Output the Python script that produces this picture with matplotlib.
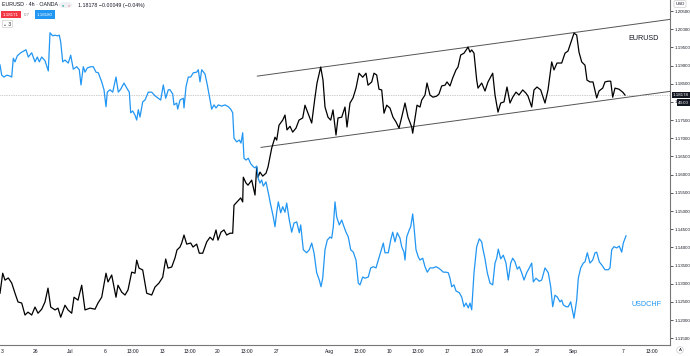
import numpy as np
import matplotlib
matplotlib.use("Agg")
import matplotlib.pyplot as plt
from matplotlib.patches import FancyBboxPatch

plt.rcParams['font.family'] = ['Liberation Sans', 'DejaVu Sans']

# time axis positions (chart time units) and prices
eur_t = [0, 2.7, 5, 8.3, 11.7, 15, 18, 21.7, 25, 28, 31.7, 35, 38, 41.7, 45, 48, 50.7, 55, 58,
         60.7, 65, 68, 71.7, 74, 78, 81.7, 85, 90, 95, 98, 101.7, 106, 108, 111.7, 116, 118,
         121.7, 125, 128, 131.7, 135, 136.7, 139, 142.7, 146.7, 151.7, 155, 159, 162.7, 165.7,
         168, 171.7, 175, 177, 180, 181.7, 184, 186.7, 190.7, 193, 196.7, 199.3, 202.7, 206.7,
         210, 213, 216, 218, 221, 224, 226.7, 230, 232.7, 234, 237, 240.7, 242.7, 243.3, 246,
         248, 251.7, 255, 256.7, 258, 260, 262.7, 266, 268, 271.7, 275, 276.7, 279, 282.7, 285,
         287, 290, 292.7, 296, 299, 302.7, 305, 308, 311.7, 315, 317, 320.7, 323, 325, 328,
         330.7, 333, 336, 338, 341.7, 345, 347, 350, 353, 356, 359, 362.7, 366, 368, 371.7, 374,
         376.7, 379, 381.7, 384, 386.7, 390, 393, 396, 399, 401.7, 405, 408, 411.7, 412.7, 415,
         417, 420, 421.7, 425, 427, 430, 433, 436.7, 439, 441.7, 445, 447, 450, 452.7, 456, 458,
         460.7, 464, 466.7, 468, 470, 471.7, 474, 476.7, 478, 481.7, 485, 488, 492.7, 495, 498,
         500.7, 504, 507, 510, 512.7, 516, 519, 522.7, 526, 528, 531.7, 534, 537, 540.7, 545,
         548, 551.7, 554, 557, 561.7, 565, 568, 571.7, 574, 576.7, 579, 581.7, 585, 587, 590,
         593, 596.7, 599, 602.7, 605, 608, 610.7, 612.7, 615, 619, 622.7, 625]
eur_px = [1.1274, 1.1329, 1.1310, 1.1316, 1.1302, 1.1274, 1.1250, 1.1247, 1.1214, 1.1222,
          1.1214, 1.1236, 1.1219, 1.1230, 1.1250, 1.1288, 1.1236, 1.1228, 1.1233, 1.1208,
          1.1241, 1.1228, 1.1219, 1.1263, 1.1255, 1.1296, 1.1228, 1.1233, 1.1230, 1.1247,
          1.1263, 1.1329, 1.1305, 1.1324, 1.1263, 1.1296, 1.1277, 1.1269, 1.1283, 1.1332,
          1.1329, 1.1365, 1.1343, 1.1338, 1.1274, 1.1269, 1.1291, 1.1302, 1.1318, 1.1368,
          1.1343, 1.1346, 1.1371, 1.1393, 1.1401, 1.1412, 1.1434, 1.1409, 1.1412, 1.1401,
          1.1409, 1.1384, 1.1384, 1.1415, 1.1428, 1.1420, 1.1448, 1.1420, 1.1442, 1.1448,
          1.1434, 1.1439, 1.1439, 1.1516, 1.1525, 1.1536, 1.1525, 1.1593, 1.1577, 1.1571,
          1.1585, 1.1544, 1.1621, 1.1593, 1.1607, 1.1596, 1.1604, 1.1621, 1.1673, 1.1703,
          1.1695, 1.1736, 1.1750, 1.1764, 1.1723, 1.1733, 1.1717, 1.1728, 1.1750, 1.1756,
          1.1791, 1.1769, 1.1742, 1.1813, 1.1852, 1.1896, 1.1860, 1.1786, 1.1758, 1.1750,
          1.1778, 1.1709, 1.1756, 1.1758, 1.1786, 1.1731, 1.1797, 1.1811, 1.1838, 1.1879,
          1.1868, 1.1879, 1.1846, 1.1855, 1.1879, 1.1874, 1.1835, 1.1833, 1.1769, 1.1791,
          1.1783, 1.1758, 1.1745, 1.1728, 1.1758, 1.1797, 1.1758, 1.1731, 1.1714, 1.1756,
          1.1791, 1.1786, 1.1805, 1.1819, 1.1852, 1.1819, 1.1813, 1.1816, 1.1822, 1.1844,
          1.1846, 1.1855, 1.1844, 1.1866, 1.1888, 1.1896, 1.1929, 1.1934, 1.1945, 1.1951,
          1.1937, 1.1943, 1.1934, 1.1860, 1.1838, 1.1852, 1.1830, 1.1855, 1.1879, 1.1819,
          1.1772, 1.1797, 1.1800, 1.1841, 1.1797, 1.1813, 1.1827, 1.1819, 1.1833, 1.1824,
          1.1816, 1.1786, 1.1833, 1.1841, 1.1833, 1.1797, 1.1833, 1.1910, 1.1888, 1.1907,
          1.1907, 1.1934, 1.1940, 1.1970, 1.1989, 1.1984, 1.1937, 1.1910, 1.1901, 1.1860,
          1.1855, 1.1855, 1.1811, 1.1830, 1.1838, 1.1855, 1.1857, 1.1857, 1.1813, 1.1838,
          1.1835, 1.1827, 1.1819]

chf_t = [0, 1.7, 4, 6.7, 9.3, 11.7, 13.3, 15, 17.3, 20.7, 24, 26, 28.3, 31.7, 35, 37.3, 39.3,
         41.7, 45, 48.3, 50, 52.7, 55, 57.3, 59.3, 60.7, 62.7, 65, 68.3, 70.7, 73.3, 76.7, 79.3,
         81, 83.3, 85, 87.3, 90.7, 93.3, 96, 98.3, 101.7, 104, 106, 107.3, 110, 112.7, 116,
         118.3, 120.7, 124, 126.7, 129.3, 130.7, 132.7, 135, 136.7, 138.3, 140, 142.7, 145,
         148.3, 151.7, 155, 158.3, 160.7, 163.3, 165.7, 168.3, 170, 172.7, 174, 176.7, 177.7,
         180, 183.3, 184, 186, 188.3, 190.7, 193.3, 196.7, 198.3, 200, 201.7, 205, 207.3, 210,
         211.7, 214, 216, 218.3, 221.7, 225, 228.3, 230.7, 232.7, 234, 236.7, 239.3, 241, 242.7,
         244, 246, 248.3, 250.7, 253.3, 255, 256.7, 258.3, 260, 261.7, 263.3, 266, 268.3, 270.7,
         273.3, 275, 276.7, 278.3, 280.7, 282.7, 285, 286.7, 289.3, 291.7, 294, 296.7, 299.3,
         300.7, 303.3, 306.7, 309.3, 311.7, 314, 316.7, 319.3, 321, 322.7, 325, 327.3, 330,
         331.7, 333.3, 335, 336.7, 339.3, 341.7, 344, 346, 348.3, 350.7, 353.3, 356, 358.3, 360,
         362.7, 365, 368.3, 370.7, 373.3, 376, 378.3, 380.7, 383.3, 385, 388.3, 390.7, 392.7,
         395, 397.3, 400, 401.7, 404, 405, 406.7, 409.3, 410.7, 412.7, 414, 416, 418.3, 420,
         422.7, 425, 427.3, 430, 433.3, 436, 438.3, 440.7, 443.3, 446, 448.3, 450, 451.7, 454,
         456, 459.3, 461.7, 464, 466, 468.3, 470, 471.7, 474, 476.7, 479.3, 481.7, 482.7, 485,
         487.3, 490, 492.7, 495, 496.7, 498.3, 500.7, 503.3, 506, 508.3, 510.7, 512.7, 515,
         517.3, 519.3, 521.7, 524, 526.7, 529.3, 531.7, 533.3, 536, 539.3, 541.7, 545, 548.3,
         550.7, 552.7, 555, 557.3, 560, 561.7, 563.3, 566, 568.3, 570.7, 574, 576.7, 578.3,
         580.7, 583.3, 585, 587.3, 590, 592.7, 595, 596.7, 599.3, 601.7, 605, 608.3, 610, 611.7,
         614, 616.7, 619.3, 621.7, 623.3, 626]
chf_px = [0.9436, 0.9419, 0.9416, 0.9419, 0.9418, 0.9416, 0.9447, 0.9441, 0.9451, 0.9456,
          0.9459, 0.9461, 0.9449, 0.9456, 0.9441, 0.9449, 0.9441, 0.9449, 0.9443, 0.9426,
          0.9489, 0.9484, 0.9485, 0.9484, 0.9485, 0.9474, 0.9441, 0.9444, 0.9439, 0.9452,
          0.9429, 0.9433, 0.9428, 0.9403, 0.9433, 0.9424, 0.9431, 0.9433, 0.9433, 0.9424,
          0.9423, 0.9408, 0.9395, 0.9367, 0.9391, 0.9395, 0.9391, 0.9416, 0.9391, 0.9396,
          0.9406, 0.9398, 0.9391, 0.9357, 0.9360, 0.9353, 0.9345, 0.9362, 0.9350, 0.9375,
          0.9378, 0.9391, 0.9391, 0.9385, 0.9381, 0.9378, 0.9403, 0.9381, 0.9395, 0.9395,
          0.9388, 0.9370, 0.9373, 0.9363, 0.9378, 0.9381, 0.9365, 0.9400, 0.9416, 0.9416,
          0.9423, 0.9424, 0.9428, 0.9408, 0.9428, 0.9421, 0.9403, 0.9378, 0.9363, 0.9370,
          0.9365, 0.9370, 0.9368, 0.9370, 0.9367, 0.9363, 0.9357, 0.9315, 0.9309, 0.9312,
          0.9307, 0.9324, 0.9282, 0.9279, 0.9282, 0.9273, 0.9268, 0.9266, 0.9269, 0.9248,
          0.9241, 0.9246, 0.9236, 0.9243, 0.9225, 0.9205, 0.9185, 0.9169, 0.9193, 0.9210,
          0.9192, 0.9202, 0.9193, 0.9208, 0.9180, 0.9160, 0.9175, 0.9177, 0.9159, 0.9172,
          0.9131, 0.9126, 0.9131, 0.9142, 0.9126, 0.9093, 0.9081, 0.9070, 0.9084, 0.9131,
          0.9147, 0.9152, 0.9150, 0.9169, 0.9210, 0.9185, 0.9172, 0.9180, 0.9169, 0.9160,
          0.9152, 0.9131, 0.9127, 0.9114, 0.9076, 0.9073, 0.9086, 0.9084, 0.9086, 0.9101,
          0.9103, 0.9101, 0.9114, 0.9127, 0.9142, 0.9126, 0.9126, 0.9147, 0.9160, 0.9144,
          0.9159, 0.9150, 0.9136, 0.9127, 0.9114, 0.9152, 0.9164, 0.9169, 0.9190, 0.9169,
          0.9131, 0.9119, 0.9114, 0.9117, 0.9103, 0.9094, 0.9101, 0.9101, 0.9103, 0.9101,
          0.9098, 0.9094, 0.9094, 0.9093, 0.9084, 0.9070, 0.9073, 0.9063, 0.9060, 0.9053,
          0.9037, 0.9043, 0.9035, 0.9043, 0.9032, 0.9093, 0.9136, 0.9149, 0.9144,
          0.9134, 0.9116, 0.9093, 0.9076, 0.9073, 0.9109, 0.9117, 0.9132, 0.9116, 0.9122,
          0.9109, 0.9081, 0.9109, 0.9117, 0.9111, 0.9099, 0.9103, 0.9093, 0.9081, 0.9093,
          0.9101, 0.9109, 0.9078, 0.9084, 0.9079, 0.9081, 0.9101, 0.9093, 0.9070, 0.9037,
          0.9056, 0.9053, 0.9045, 0.9048, 0.9040, 0.9037, 0.9037, 0.9045, 0.9018, 0.9048,
          0.9084, 0.9101, 0.9109, 0.9111, 0.9126, 0.9109, 0.9114, 0.9126, 0.9127, 0.9111,
          0.9106, 0.9098, 0.9098, 0.9101, 0.9131, 0.9136, 0.9134, 0.9137, 0.9127, 0.9142,
          0.9154]

# trend channel drawn on EURUSD
upper_t = [257.3, 670]
upper_px = [1.1871, 1.2027]
lower_t = [261, 670]
lower_px = [1.1675, 1.1829]

last_px = 1.18178
yticks = [1.115, 1.12, 1.125, 1.13, 1.135, 1.14, 1.145, 1.15, 1.155, 1.16, 1.165,
          1.17, 1.175, 1.18, 1.185, 1.19, 1.195, 1.2, 1.205]
xtick_t = [2, 35, 70, 105, 133, 162, 190, 218, 247, 276, 330, 360, 389, 418, 447,
           477, 507, 537, 573, 623, 652]
xtick_lab = ['3', '26', 'Jul', '6', '13:00', '13', '13:00', '20', '13:00', '27', 'Aug',
             '13:00', '10', '13:00', '17', '13:00', '24', '27', 'Sep', '7', '13:00']

blue = '#2196F3'
txt = '#131722'

fig = plt.figure(figsize=(6.9, 3.56), dpi=100)
ax = fig.add_axes([0, 11 / 356, 670 / 690, 345 / 356])
ax2 = ax.twinx()

ax.plot(eur_t, eur_px, color='black', lw=0.9, zorder=3)
ax2.plot(chf_t, chf_px, color=blue, lw=0.9)
ax.plot(upper_t, upper_px, color='#555555', lw=0.7)
ax.plot(lower_t, lower_px, color='#555555', lw=0.7)
ax.axhline(last_px, color='#9a9a9a', lw=0.5, ls=(0, (1, 1.5)))

ax.set_xlim(0, 670)
ax.set_ylim(1.11316, 1.20803)
ax2.set_ylim(0.89738, 0.95431)
ax2.set_yticks([])

ax.yaxis.tick_right()
ax.set_yticks(yticks)
ax.set_yticklabels(['%.5f' % v for v in yticks])
ax.tick_params(axis='y', labelsize=3.2, colors=txt, length=2, width=0.5, pad=1)
ax.set_xticks(xtick_t)
ax.set_xticklabels(xtick_lab)
ax.tick_params(axis='x', labelsize=3.6, colors=txt, length=0, pad=3)

for s in ['top', 'left']:
    ax.spines[s].set_visible(False)
    ax2.spines[s].set_visible(False)
ax.spines['right'].set_color('#777777')
ax.spines['bottom'].set_color('#777777')
ax.spines['right'].set_linewidth(0.8)
ax.spines['bottom'].set_linewidth(0.8)
ax2.spines['right'].set_visible(False)
ax2.spines['bottom'].set_visible(False)

# series names
ax.text(628, 1.1975, 'EURUSD', fontsize=5.2, color=txt, va='center')
ax2.text(631, 0.9040, 'USDCHF', fontsize=5.2, color=blue, va='center')

# price boxes on the right scale
fig.text(673 / 690, 1 - 95 / 356, '1.18178', fontsize=3.2, color='white', va='center',
         bbox=dict(boxstyle='square,pad=0.3', fc='#131722', ec='none'))
fig.text(678 / 690, 1 - 102.5 / 356, '43:00', fontsize=3.2, color='white', va='center',
         bbox=dict(boxstyle='square,pad=0.3', fc='#131722', ec='none'))
fig.text(680 / 690, 1 - 4 / 356, 'USD', fontsize=3.2, color=txt, va='center', ha='center',
         bbox=dict(boxstyle='round,pad=0.3', fc='white', ec='#cccccc', lw=0.5))
fig.text(680 / 690, 1 - 350 / 356, 'A', fontsize=3.2, color=txt, va='center', ha='center',
         bbox=dict(boxstyle='circle,pad=0.3', fc='white', ec='#cccccc', lw=0.5))

# legend block, top left
fig.text(2 / 690, 1 - 5 / 356, 'EURUSD \u00b7 4h \u00b7 OANDA', fontsize=3.8, color=txt, va='center')
pill = FancyBboxPatch((59 / 690, 1 - 8 / 356), 13 / 690, 6 / 356,
                      boxstyle='round,pad=0,rounding_size=0.008', fc='#eef0f3', ec='none',
                      transform=fig.transFigure)
fig.patches.append(pill)
fig.text(62.5 / 690, 1 - 5 / 356, '\u25cf', fontsize=2.6, color='#26a69a', va='center', ha='center')
fig.text(68.5 / 690, 1 - 5 / 356, '\u25cf', fontsize=2.6, color='#ef9aa5', va='center', ha='center')
fig.text(78 / 690, 1 - 5 / 356, '1.18178 \u22120.00049 (\u22120.04%)', fontsize=3.8,
         color=txt, va='center')
fig.text(3 / 690, 1 - 14.5 / 356, '1.18171', fontsize=3.2, color='white', va='center',
         bbox=dict(boxstyle='square,pad=0.35', fc='#f23645', ec='none'))
fig.text(24 / 690, 1 - 14.5 / 356, '0.7', fontsize=3.2, color='#888888', va='center')
fig.text(37 / 690, 1 - 14.5 / 356, '1.18180', fontsize=3.2, color='white', va='center',
         bbox=dict(boxstyle='square,pad=0.5', fc=blue, ec='none'))
fig.text(3.5 / 690, 1 - 24 / 356, '\u2304 3', fontsize=3.4, color=txt, va='center',
         bbox=dict(boxstyle='round,pad=0.25', fc='white', ec='#cccccc', lw=0.5))

fig.savefig('out.png', dpi=100)
